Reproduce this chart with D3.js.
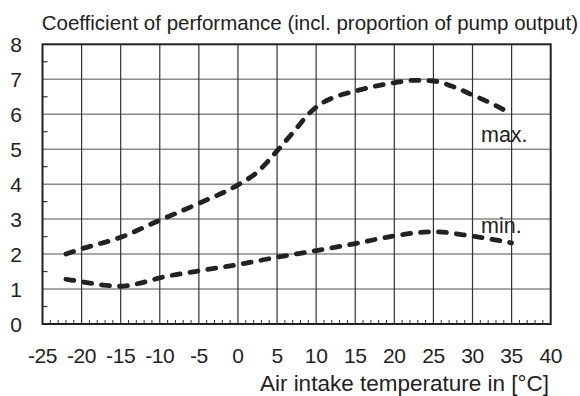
<!DOCTYPE html>
<html>
<head>
<meta charset="utf-8">
<script src="https://cdn.jsdelivr.net/npm/d3@7"></script>
<style>
  html, body { margin: 0; padding: 0; background: #fff; }
  svg { display: block; }
  text { font-family: "Liberation Sans", Arial, Helvetica, sans-serif; fill: #222; }
</style>
</head>
<body>
<svg id="chart" width="580" height="396"></svg>
<script>
// Air intake temperature [°C] and coefficient of performance
const tempMax = [-22, -20, -15, -10, -5, 0, 2.5, 5, 7.5, 9, 10, 11, 12.5, 15, 17.5, 20, 22.5, 25, 27.5, 30, 32.5, 35];
const copMax  = [2.0, 2.15, 2.48, 2.97, 3.45, 3.98, 4.35, 4.95, 5.6, 6.0, 6.2, 6.35, 6.5, 6.66, 6.8, 6.9, 6.97, 6.95, 6.79, 6.55, 6.3, 6.0];

const tempMin = [-22, -20, -17.5, -15, -12.5, -10, -5, 0, 5, 10, 15, 20, 25, 30, 35];
const copMin  = [1.28, 1.21, 1.12, 1.08, 1.17, 1.32, 1.52, 1.7, 1.91, 2.1, 2.3, 2.52, 2.64, 2.51, 2.32];

const xTicks = [-25, -20, -15, -10, -5, 0, 5, 10, 15, 20, 25, 30, 35, 40];
const yTicks = [0, 1, 2, 3, 4, 5, 6, 7, 8];

const titleText = "Coefficient of performance (incl. proportion of pump output)";
const xTitleText = "Air intake temperature in [°C]";
const seriesLabels = ["max.", "min."];

const svg = d3.select("#chart");

const x = d3.scaleLinear().domain([-25, 40]).range([42.5, 550.7]);
const y = d3.scaleLinear().domain([0, 8]).range([324, 44.3]);

const [x0, x1] = x.range();
const [y0, y1] = y.range();

// Horizontal grid lines (lighter)
svg.append("g")
  .selectAll("line")
  .data(yTicks.slice(1, -1))
  .join("line")
  .attr("x1", x0).attr("x2", x1)
  .attr("y1", d => y(d)).attr("y2", d => y(d))
  .attr("stroke", "#8a8a8a").attr("stroke-width", 1.5);

// Vertical grid lines (darker)
svg.append("g")
  .selectAll("line")
  .data(xTicks.slice(1, -1))
  .join("line")
  .attr("x1", d => x(d)).attr("x2", d => x(d))
  .attr("y1", y0).attr("y2", y1)
  .attr("stroke", "#333").attr("stroke-width", 1.2);

// Minor ticks on the left edge at half units
svg.append("g")
  .selectAll("line")
  .data(d3.range(0.5, 8, 1))
  .join("line")
  .attr("x1", x0).attr("x2", x0 + 5)
  .attr("y1", d => y(d)).attr("y2", d => y(d))
  .attr("stroke", "#333").attr("stroke-width", 1.2);

// Minor ticks on the bottom edge every degree
svg.append("g")
  .selectAll("line")
  .data(d3.range(-24, 40, 1).filter(d => d % 5 !== 0))
  .join("line")
  .attr("x1", d => x(d)).attr("x2", d => x(d))
  .attr("y1", y0).attr("y2", y0 - 4)
  .attr("stroke", "#333").attr("stroke-width", 1);

// Plot frame
svg.append("rect")
  .attr("x", x0).attr("y", y1)
  .attr("width", x1 - x0).attr("height", y0 - y1)
  .attr("fill", "none").attr("stroke", "#222").attr("stroke-width", 2);

// Curves
const line = d3.line()
  .x(d => x(d[0])).y(d => y(d[1]))
  .curve(d3.curveMonotoneX);

const series = [
  d3.zip(tempMax, copMax),
  d3.zip(tempMin, copMin)
];

svg.append("g")
  .selectAll("path")
  .data(series)
  .join("path")
  .attr("d", line)
  .attr("fill", "none")
  .attr("stroke", "#222")
  .attr("stroke-width", 4.8)
  .attr("stroke-linecap", "round")
  .attr("stroke-dasharray", "8,10");

// Series labels
svg.append("text").attr("x", 481).attr("y", 142).attr("font-size", 21.5).text(seriesLabels[0]);
svg.append("text").attr("x", 481).attr("y", 233).attr("font-size", 21.5).text(seriesLabels[1]);

// Y axis labels
svg.append("g")
  .selectAll("text")
  .data(yTicks)
  .join("text")
  .attr("x", 22).attr("y", d => y(d))
  .attr("dy", "0.36em")
  .attr("text-anchor", "end")
  .attr("font-size", 21)
  .text(d => d);

// X axis labels
svg.append("g")
  .selectAll("text")
  .data(xTicks)
  .join("text")
  .attr("x", d => x(d)).attr("y", 363)
  .attr("text-anchor", "middle")
  .attr("font-size", 21)
  .attr("letter-spacing", -0.4)
  .text(d => d);

// Titles
svg.append("text")
  .attr("x", 578).attr("y", 30)
  .attr("text-anchor", "end")
  .attr("font-size", 20.5)
  .text(titleText);

svg.append("text")
  .attr("x", 549).attr("y", 391)
  .attr("text-anchor", "end")
  .attr("font-size", 22.5)
  .text(xTitleText);
</script>
</body>
</html>
